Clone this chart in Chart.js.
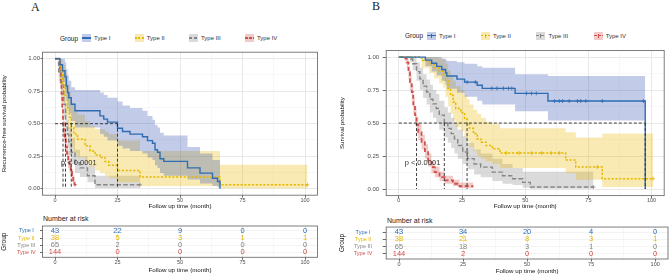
<!DOCTYPE html>
<html>
<head>
<meta charset="utf-8">
<script src="https://cdn.jsdelivr.net/npm/chart.js@4.4.0/dist/chart.umd.min.js"></script>
<style>
  html, body { margin: 0; padding: 0; background: #fff; }
  #fig { position: relative; width: 669px; height: 277px; overflow: hidden; font-family: "Liberation Sans", Arial, sans-serif; }
  #fig canvas { position: absolute; }
  .tag { position: absolute; font-family: "Liberation Serif", serif; font-size: 12px; line-height: 12px; color: #222; }
  .legend { position: absolute; display: flex; align-items: center; height: 10px; font-size: 6px; color: #333; white-space: nowrap; }
  .legend .title { font-size: 6.5px; color: #222; margin-right: 4px; }
  .key { position: relative; width: 9px; height: 8px; margin-right: 3px; }
  .key .ln { position: absolute; left: 0; right: 0; top: 3.3px; height: 1.4px; }
  .key .tk { position: absolute; left: 4px; width: 1px; top: 2px; height: 4px; }
  .nar { position: absolute; font-size: 7px; line-height: 8px; color: #222; }
</style>
</head>
<body>
<div id="fig">
  <div class="tag" style="left:31px;top:1px">A</div>
  <div class="tag" style="left:372px;top:0px">B</div>
  <div class="legend" id="legA" style="left:60px;top:33px"></div>
  <div class="legend" id="legB" style="left:405px;top:30.5px"></div>
  <div class="nar" style="left:43px;top:215.4px">Number at risk</div>
  <div class="nar" style="left:387px;top:217px">Number at risk</div>
  <canvas id="survA" width="335" height="170" style="left:0;top:44px"></canvas>
  <canvas id="survB" width="334" height="170" style="left:335px;top:44px"></canvas>
  <canvas id="riskA" width="335" height="63" style="left:0;top:214px"></canvas>
  <canvas id="riskB" width="334" height="63" style="left:335px;top:214px"></canvas>
</div>
<script>
// groups and styling
const groups = ['Type I', 'Type II', 'Type III', 'Type IV'];
const lineColors = ['#2e6db4', '#e6b800', '#868686', '#d0504b'];
const bandColors = ['rgba(52,84,180,0.3)', 'rgba(232,186,0,0.3)', 'rgba(134,134,134,0.3)', 'rgba(205,83,76,0.3)'];
const lineDash = [[], [2.2, 1.6], [4.5, 2.2], [4, 2.5]];
const lineWidths = [1.4, 1.5, 1.4, 1.8];
const keyDash = [null, [2, 1.5], [3.5, 1.5], [3, 1]];

// axis ticks
const xTicks = [0, 12.5, 25, 37.5, 50, 62.5, 75, 87.5, 100];
const xTickLabels = ['0', '', '25', '', '50', '', '75', '', '100'];
const yTicks = [0, 0.125, 0.25, 0.375, 0.5, 0.625, 0.75, 0.875, 1];
const yTickLabels = ['0.00', '', '0.25', '', '0.50', '', '0.75', '', '1.00'];
const xTitle = 'Follow up time (month)';
const pText = 'p < 0.0001';

// Panel A: recurrence-free survival (step times / estimate / CI)
const timesA = [
  [0, 2, 3, 4, 4.5, 5, 5.5, 6.5, 8, 18, 19.5, 21, 25, 27, 30, 35, 37, 39, 40, 41, 42, 43.5, 53, 58, 63, 65, 66],
  [0, 2, 3, 4, 5, 5.8, 6.5, 7.5, 9, 12, 14, 16, 18, 20, 21.5, 25, 34, 66, 101],
  [0, 1.5, 2.5, 3.5, 4.2, 5, 5.5, 6.5, 8, 10, 13, 16, 34],
  [0, 1.5, 2, 2.3, 2.6, 2.9, 3.2, 3.5, 3.9, 4.3, 4.8, 5.3, 5.8, 6.3, 6.8, 7.3, 7.8, 8.3]
];
const survA = [
  [1, .953, .907, .86, .79, .74, .70, .65, .60, .56, .535, .512, .465, .44, .42, .40, .37, .35, .30, .28, .23, .21, .16, .12, .08, .055, 0],
  [1, .92, .80, .72, .62, .55, .47, .42, .38, .33, .29, .26, .24, .21, .18, .14, .09, .03, .03],
  [1, .90, .80, .65, .50, .42, .36, .28, .20, .16, .10, .03, .03],
  [1, .96, .90, .82, .73, .62, .50, .44, .38, .32, .27, .22, .17, .13, .10, .06, .03, .01]
];
const upperA = [
  [1, 1, 1, .97, .92, .87, .83, .78, .76, .74, .72, .70, .67, .64, .62, .60, .56, .53, .49, .47, .43, .41, .32, .27, .22, .22, .22],
  [1, 1, .95, .88, .80, .74, .66, .61, .57, .52, .48, .46, .46, .44, .42, .37, .29, .185, .185],
  [1, .96, .88, .75, .61, .53, .47, .39, .30, .25, .18, .10, .10],
  [1, .99, .95, .88, .80, .70, .58, .52, .46, .40, .34, .29, .23, .18, .15, .10, .06, .03]
];
const lowerA = [
  [1, .89, .82, .76, .68, .62, .58, .52, .47, .42, .40, .37, .33, .31, .29, .27, .24, .22, .18, .16, .12, .10, .07, .04, .02, .01, .01],
  [1, .80, .66, .57, .46, .39, .32, .27, .24, .20, .17, .14, .12, .10, .08, .05, .02, .004, .004],
  [1, .83, .71, .55, .40, .32, .26, .19, .12, .09, .05, .005, .005],
  [1, .93, .85, .76, .66, .55, .43, .37, .31, .26, .21, .16, .12, .09, .06, .03, .01, 0]
];
const censorA = [[], [101], [34], []];
const medianA = [25, 6.5, 4.2, 3.2];
const pvalPosA = [2.4, 0.2];

// Panel B: overall survival
const timesB = [
  [0, 10.5, 13, 15, 17, 18.5, 19, 23, 26, 31, 33, 46, 59, 97.5],
  [0, 9, 12, 14, 16, 17.5, 18.5, 19.5, 20.5, 21.5, 22.5, 24.5, 26, 27, 28, 29.5, 31, 32.5, 34.5, 37, 40, 66, 70, 80.5, 100.6],
  [0, 4.5, 5.5, 7, 8.3, 9.6, 11, 12.3, 13.5, 14.8, 16, 18, 19.4, 20.7, 22, 23.3, 25.3, 27.2, 29.8, 32.4, 37, 41, 45, 49, 52, 77],
  [0, 2.5, 3.1, 3.8, 4.4, 5.1, 5.7, 6.4, 7, 7.7, 9, 10.3, 11.6, 12.9, 14.2, 16.1, 18.1, 21.4, 24, 29.5]
];
const survB = [
  [1, .977, .953, .93, .906, .88, .857, .833, .81, .787, .763, .725, .667, 0],
  [1, .974, .947, .92, .895, .87, .82, .76, .71, .66, .61, .58, .53, .50, .46, .42, .38, .355, .33, .305, .273, .22, .167, .078, .078],
  [1, .985, .95, .89, .835, .78, .735, .68, .645, .61, .56, .50, .46, .42, .38, .33, .28, .23, .19, .166, .128, .10, .078, .05, .015, .015],
  [1, .99, .96, .885, .81, .735, .63, .56, .49, .43, .355, .28, .216, .166, .128, .09, .065, .04, .021, .021]
];
const upperB = [
  [1, 1, 1, 1, .99, .98, .97, .96, .95, .93, .92, .87, .856, .856],
  [1, 1, 1, 1, .99, .98, .95, .90, .86, .82, .78, .75, .71, .68, .64, .60, .57, .54, .51, .49, .46, .43, .39, .42, .42],
  [1, 1, 1, .96, .92, .87, .83, .79, .75, .72, .67, .62, .58, .54, .50, .45, .40, .35, .30, .27, .23, .19, .16, .13, .13, .13],
  [1, 1, .99, .93, .86, .79, .69, .62, .55, .49, .41, .34, .27, .21, .17, .13, .10, .07, .05, .05]
];
const lowerB = [
  [1, .93, .89, .86, .82, .79, .76, .73, .70, .67, .64, .59, .52, .52],
  [1, .92, .88, .84, .80, .77, .70, .63, .57, .52, .47, .44, .39, .36, .32, .29, .25, .23, .21, .19, .16, .12, .07, .015, .015],
  [1, .96, .90, .82, .75, .69, .64, .58, .54, .50, .45, .39, .35, .31, .27, .23, .19, .15, .11, .09, .06, .04, .03, .01, .002, .002],
  [1, .97, .92, .83, .75, .67, .57, .50, .43, .37, .30, .23, .17, .12, .09, .06, .04, .02, .008, .008]
];
const censorB = [
  [27, 30.3, 36.8, 38.8, 41.4, 43.4, 44.7, 50.5, 52.5, 54.4, 61.6, 63.5, 64.8, 67.4, 70.7, 72, 74, 80.5, 96.8],
  [42.5, 47.5, 52.5, 56.5, 60.3, 63.5, 78.6, 100.6],
  [77],
  []
];
const medianB = [97.5, 27, 18, 7];
const pvalPosB = [2.3, 0.197];

// number at risk tables
const riskTimes = [0, 25, 50, 75, 100];
const riskA = [[43, 22, 9, 0, 0], [38, 5, 3, 1, 1], [65, 2, 0, 0, 0], [144, 0, 0, 0, 0]];
const riskB = [[43, 34, 20, 4, 0], [38, 21, 8, 3, 1], [65, 18, 3, 1, 0], [144, 2, 0, 0, 0]];
const rowTicks = [1, 2, 3, 4];

Chart.defaults.font.family = '"Liberation Sans", Arial, sans-serif';
Chart.defaults.color = '#4d4d4d';

function stepPts(ts, vals) {
  return ts.map((t, k) => ({ x: t, y: vals[k] }));
}

function survAt(ts, ss, t) {
  let v = ss[0];
  ts.forEach((tt, k) => { if (tt <= t) v = ss[k]; });
  return v;
}

// grey frame round the panel
const boxPlugin = {
  id: 'panelBox',
  afterDatasetsDraw(chart) {
    const a = chart.chartArea, ctx = chart.ctx;
    ctx.save();
    ctx.strokeStyle = '#707070';
    ctx.lineWidth = 0.9;
    ctx.strokeRect(a.left, a.top, a.right - a.left, a.bottom - a.top);
    ctx.restore();
  }
};

function pvalPlugin(pos) {
  return {
    id: 'pval',
    afterDatasetsDraw(chart) {
      const { ctx, scales: { x, y } } = chart;
      ctx.save();
      ctx.font = '7.5px "Liberation Sans", Arial, sans-serif';
      ctx.fillStyle = '#333';
      ctx.textBaseline = 'middle';
      ctx.fillText(pText, x.getPixelForValue(pos[0]), y.getPixelForValue(pos[1]));
      ctx.restore();
    }
  };
}

function riskPlugin(values) {
  return {
    id: 'riskText',
    afterDatasetsDraw(chart) {
      const { ctx, scales: { x, y } } = chart;
      ctx.save();
      ctx.font = '7.5px "Liberation Sans", Arial, sans-serif';
      ctx.textAlign = 'center';
      ctx.textBaseline = 'middle';
      values.forEach((row, i) => {
        ctx.fillStyle = lineColors[i];
        row.forEach((n, k) => {
          ctx.fillText(String(n), x.getPixelForValue(riskTimes[k]), y.getPixelForValue(rowTicks[i]));
        });
      });
      ctx.restore();
    }
  };
}

function xAxis(height, titlePad) {
  return {
    type: 'linear', min: -5, max: 105,
    afterBuildTicks: s => { s.ticks = xTicks.map(v => ({ value: v })); },
    afterFit: s => { s.height = height; },
    ticks: {
      autoSkip: false, maxRotation: 0, padding: 0,
      font: { size: 5.5, lineHeight: 1 }, color: '#4d4d4d',
      callback: (v, i) => xTickLabels[i]
    },
    grid: {
      color: c => xTickLabels[c.index] ? '#e2e2e2' : '#f0f0f0',
      lineWidth: c => xTickLabels[c.index] ? 0.8 : 0.5,
      tickColor: c => xTickLabels[c.index] ? '#444' : 'rgba(0,0,0,0)',
      tickLength: 2.5, tickWidth: 0.8
    },
    border: { display: false },
    title: { display: true, text: xTitle, color: '#111', font: { size: 6.2 }, padding: { top: 0, bottom: titlePad } }
  };
}

function survChart(id, p) {
  const datasets = [];
  groups.forEach((g, i) => {
    datasets.push({
      label: g + ' upper', data: stepPts(p.times[i], p.upper[i]), stepped: true,
      borderColor: 'rgba(0,0,0,0)', borderWidth: 0, pointRadius: 0, fill: false, order: 4
    });
    datasets.push({
      label: g + ' lower', data: stepPts(p.times[i], p.lower[i]), stepped: true,
      borderColor: 'rgba(0,0,0,0)', borderWidth: 0, pointRadius: 0, fill: '-1',
      backgroundColor: bandColors[i], order: 4
    });
  });
  groups.forEach((g, i) => {
    datasets.push({
      label: g, data: stepPts(p.times[i], p.surv[i]), stepped: true,
      borderColor: lineColors[i], borderWidth: lineWidths[i], borderDash: lineDash[i],
      pointRadius: 0, fill: false, order: 2
    });
  });
  // median survival guide lines
  const medStyle = { borderColor: '#2a2a2a', borderWidth: 0.9, borderDash: [3, 2], pointRadius: 0, fill: false, order: 1 };
  datasets.push(Object.assign({ data: [{ x: 0, y: 0.5 }, { x: Math.max(...p.medians), y: 0.5 }] }, medStyle));
  p.medians.forEach(m => {
    datasets.push(Object.assign({ data: [{ x: m, y: 0.5 }, { x: m, y: 0 }] }, medStyle));
  });
  // censoring marks
  groups.forEach((g, i) => {
    if (!p.censor[i].length) return;
    datasets.push({
      label: g + ' censor',
      data: p.censor[i].map(t => ({ x: t, y: survAt(p.times[i], p.surv[i], t) })),
      showLine: false, pointStyle: 'cross', pointRadius: 2, borderColor: lineColors[i],
      borderWidth: 0.8, order: 0
    });
  });

  new Chart(document.getElementById(id), {
    type: 'line',
    data: { datasets },
    options: {
      responsive: false, animation: false, events: [], devicePixelRatio: 1,
      layout: { padding: p.pad },
      plugins: { legend: { display: false }, tooltip: { enabled: false } },
      scales: {
        x: xAxis(p.xHeight, 3.8),
        y: {
          type: 'linear', min: -0.05, max: 1.05,
          afterBuildTicks: s => { s.ticks = yTicks.map(v => ({ value: v })); },
          afterFit: s => { s.width = p.yWidth; },
          ticks: {
            autoSkip: false, padding: p.yTickPad, font: { size: 6, lineHeight: 1 }, color: '#4d4d4d',
            callback: (v, i) => yTickLabels[i]
          },
          grid: {
            color: c => yTickLabels[c.index] ? '#e2e2e2' : '#f0f0f0',
            lineWidth: c => yTickLabels[c.index] ? 0.8 : 0.5,
            tickColor: c => yTickLabels[c.index] ? '#444' : 'rgba(0,0,0,0)',
            tickLength: p.yTickLen, tickWidth: 0.8
          },
          border: { display: false },
          title: { display: true, text: p.yTitle, color: '#111', font: { size: 6.2 }, padding: { top: p.yTitlePad, bottom: 0 } }
        }
      }
    },
    plugins: [boxPlugin, pvalPlugin(p.pval)]
  });
}

function riskChart(id, values, p) {
  new Chart(document.getElementById(id), {
    type: 'scatter',
    data: { datasets: [] },
    options: {
      responsive: false, animation: false, events: [], devicePixelRatio: 1,
      layout: { padding: p.pad },
      plugins: { legend: { display: false }, tooltip: { enabled: false } },
      scales: {
        x: xAxis(p.xHeight, p.xTitlePad),
        y: {
          type: 'linear', min: 0.3, max: 4.7, reverse: true,
          afterBuildTicks: s => { s.ticks = rowTicks.map(v => ({ value: v })); },
          afterFit: s => { s.width = p.yWidth; },
          ticks: {
            autoSkip: false, crossAlign: 'center', padding: p.rowPad,
            font: { size: 5.5, lineHeight: 1 },
            color: c => lineColors[c.index],
            callback: (v, i) => groups[i]
          },
          grid: { color: '#ebebeb', lineWidth: 0.6, tickColor: '#444', tickLength: p.yTickLen, tickWidth: 0.8 },
          border: { display: false },
          title: { display: true, text: 'Group', color: '#111', font: { size: 6.5 }, padding: { top: p.yTitlePad, bottom: 0 } }
        }
      }
    },
    plugins: [boxPlugin, riskPlugin(values)]
  });
}

function buildLegend(elId, withCross, gap) {
  const el = document.getElementById(elId);
  const t = document.createElement('span');
  t.className = 'title';
  t.textContent = 'Group';
  el.appendChild(t);
  groups.forEach((g, i) => {
    const key = document.createElement('span');
    key.className = 'key';
    key.style.background = bandColors[i];
    const ln = document.createElement('span');
    ln.className = 'ln';
    const d = keyDash[i];
    ln.style.background = d
      ? `repeating-linear-gradient(90deg, ${lineColors[i]} 0 ${d[0]}px, transparent ${d[0]}px ${d[0] + d[1]}px)`
      : lineColors[i];
    key.appendChild(ln);
    if (withCross) {
      const tk = document.createElement('span');
      tk.className = 'tk';
      tk.style.background = lineColors[i];
      key.appendChild(tk);
    }
    el.appendChild(key);
    const lbl = document.createElement('span');
    lbl.textContent = g;
    if (i < groups.length - 1) lbl.style.marginRight = gap + 'px';
    el.appendChild(lbl);
  });
}

buildLegend('legA', false, 24.3);
buildLegend('legB', true, 25.5);

survChart('survA', {
  times: timesA, surv: survA, upper: upperA, lower: lowerA, censor: censorA, medians: medianA,
  pval: pvalPosA, yTitle: 'Recurrence-free survival probability',
  pad: { left: 0, right: 17.5, top: 8.2, bottom: 0 }, xHeight: 18.8, yWidth: 42.5,
  yTickPad: 0.5, yTickLen: 2, yTitlePad: 0.6
});
survChart('survB', {
  times: timesB, surv: survB, upper: upperB, lower: lowerB, censor: censorB, medians: medianB,
  pval: pvalPosB, yTitle: 'Survival probability',
  pad: { left: 0, right: 1, top: 6.4, bottom: 0 }, xHeight: 18.4, yWidth: 51.2,
  yTickPad: 3.5, yTickLen: 3.5, yTitlePad: 3.3
});

riskChart('riskA', riskA, {
  pad: { left: 0, right: 17.5, top: 12, bottom: 0 }, xHeight: 19.7, yWidth: 42.5,
  xTitlePad: 3.1, rowPad: 4.3, yTickLen: 2.5, yTitlePad: 0
});
riskChart('riskB', riskB, {
  pad: { left: 0, right: 1, top: 13, bottom: 0 }, xHeight: 18, yWidth: 51.2,
  xTitlePad: 1.8, rowPad: 10.3, yTickLen: 3.5, yTitlePad: 3.1
});
</script>
</body>
</html>
